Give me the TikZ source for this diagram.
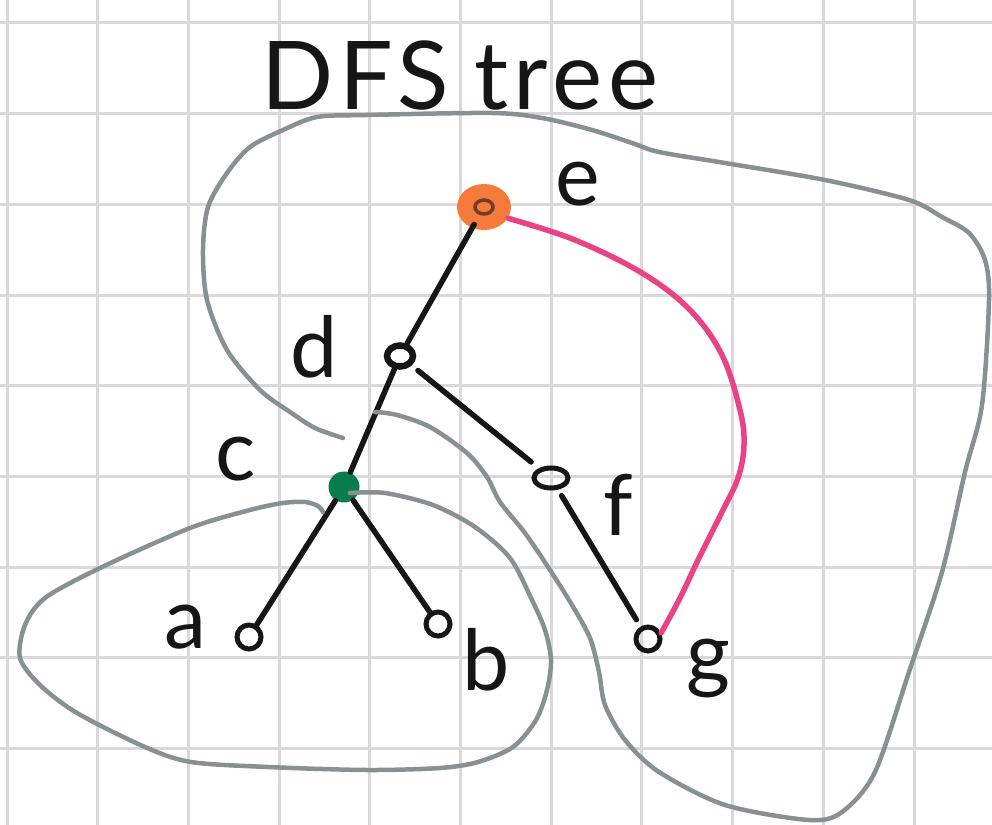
\documentclass[tikz,border=0pt]{standalone}
\usepackage{fontspec}
\setmainfont{Lato}
\usepackage{tikz}
\usetikzlibrary{shapes.geometric}
\definecolor{gridgray}{RGB}{217,217,217}
\definecolor{blobgray}{RGB}{136,145,145}
\definecolor{rootorange}{RGB}{246,122,58}
\definecolor{cutgreen}{RGB}{8,124,74}
\definecolor{backpink}{RGB}{233,66,133}
\definecolor{inkblack}{RGB}{22,22,22}

\begin{document}
\begin{tikzpicture}[x=0.1mm, y=-0.1mm,
    gridline/.style={gridgray, line width=0.3mm},
    blob/.style={draw=blobgray, line width=0.45mm, line cap=round},
    treeedge/.style={draw=inkblack, line width=0.55mm, line cap=round},
    backedge/.style={draw=backpink, line width=0.55mm, line cap=round},
    vtx/.style={circle, draw=inkblack, line width=0.5mm, minimum size=2.4mm, inner sep=0pt},
    lbl/.style={text=inkblack, font=\fontsize{24}{26}\selectfont, anchor=base, inner sep=0pt}]
  \useasboundingbox (0,0) rectangle (992,825);
  \fill[white] (0,0) rectangle (992,825);

  % Squared paper
  \foreach \i in {0,...,10}
    \draw[gridline] (7+90.7*\i, 0) -- (7+90.7*\i, 825);
  \foreach \j in {0,...,8}
    \draw[gridline] (0, 23+90.7*\j) -- (992, 23+90.7*\j);

  \node[text=inkblack, font=\fontsize{27}{30}\selectfont\addfontfeature{LetterSpace=6}, anchor=base, inner sep=0pt] (title) at (460,110) {DFS\hspace{2.5mm}tree};

  % Vertices
  \node[ellipse, fill=rootorange, minimum width=5.4mm, minimum height=4.6mm, inner sep=0pt] (e) at (484,207) {};
  \draw[inkblack, line width=0.35mm, opacity=0.6] (e.center) ellipse (0.9mm and 0.7mm);
  \node[ellipse, draw=inkblack, line width=0.65mm, minimum width=2.6mm, minimum height=2.1mm, inner sep=0pt] (d) at (400,356) {};
  \node[circle, fill=cutgreen, minimum size=3.1mm, inner sep=0pt] (c) at (344,487) {};
  \node[vtx] (a) at (249,637) {};
  \node[vtx] (b) at (438,624) {};
  \node[ellipse, draw=inkblack, line width=0.5mm, minimum width=3.4mm, minimum height=2.0mm, inner sep=0pt] (f) at (551,478) {};
  \node[vtx] (g) at (648,639) {};

  % Labels
  \node[lbl] (le) at (578,205) {e};
  \node[lbl] (ld) at (314,377) {d};
  \node[lbl] (lc) at (236,480) {c};
  \node[lbl] (la) at (185,648) {a};
  \node[lbl] (lb) at (486,690) {b};
  \node[lbl] (lf) at (618,535) {f};
  \node[lbl] (lg) at (708,682) {g};

  % Tree edges
  \draw[treeedge, shorten <=2mm] (e.center) -- (d);
  \foreach \u/\v in {d/c, c/a, c/b}
    \draw[treeedge] (\u) -- (\v);
  \draw[treeedge, shorten <=0.8mm, shorten >=1mm] (d) -- (f);
  \draw[treeedge, shorten <=0.7mm, shorten >=0.8mm] (f) -- (g);

  % Back edge
  \draw[backedge] plot[smooth, tension=0.6] coordinates {(e.-25) (575,240) (642,273) (690,310)
    (722,355) (740,410) (744,445) (738,478) (722,512) (699,558) (680,598) (g.25)};

  % Subtree of c
  \draw[blob] plot[smooth] coordinates {(350,493) (385,493) (433,505) (475,527) (510,558)
    (532,600) (545,630) (551,660) (547,690) (536,720) (513,747) (478,762) (440,768)
    (367,770) (268,767) (191,762) (145,747) (77,713) (40,685) (20,658) (25,625)
    (45,598) (100,568) (190,528) (250,510) (283,503) (305,502) (318,506) (323,512)};

  % Rest of the tree
  \draw[blob] plot[smooth] coordinates {(375,412) (397,415) (430,427) (467,453) (487,477)
    (500,502) (525,533) (550,570) (572,605) (590,638) (599,672) (605,705) (625,740)
    (659,772) (725,805) (809,820) (842,812) (875,772) (909,672) (942,572) (965,472)
    (982,405) (989,300) (985,260) (969,233) (942,217) (909,200) (825,180) (725,163)
    (659,152) (632,143) (592,130) (542,118) (492,113) (367,115) (317,117) (283,130)
    (250,147) (227,173) (208,207) (203,250) (207,300) (227,350) (260,390) (290,412)
    (315,428) (343,438)};
\end{tikzpicture}
\end{document}
